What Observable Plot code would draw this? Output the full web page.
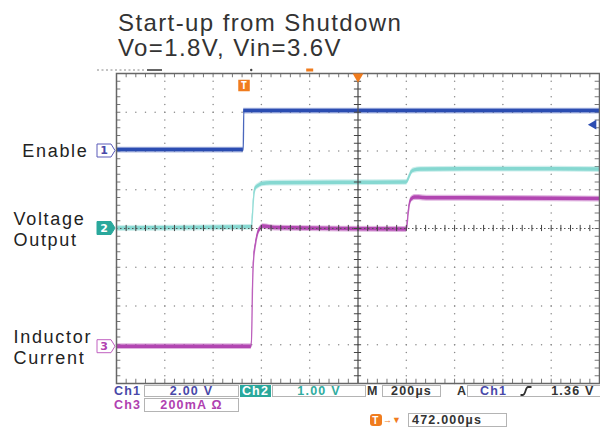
<!DOCTYPE html>
<html><head><meta charset="utf-8">
<script src="https://cdn.jsdelivr.net/npm/d3@7"></script>
<script src="https://cdn.jsdelivr.net/npm/@observablehq/plot@0.6"></script>
<style>
html,body{margin:0;padding:0;background:#fff;}
#wrap{position:relative;width:600px;height:428px;overflow:hidden;font-family:"Liberation Sans",Arial,sans-serif;}
#wrap svg{position:absolute;left:0;top:0;}
#title{position:absolute;left:118px;top:10px;font-size:24px;line-height:25px;letter-spacing:1.4px;color:#333;white-space:nowrap;}
.ro{position:absolute;box-sizing:border-box;display:flex;align-items:center;font-size:12.5px;font-weight:bold;letter-spacing:1.2px;white-space:nowrap;}
.bx{border:1px solid #b4b4b4;background:#fff;}
</style></head><body>
<div id="wrap"><div id="title">Start-up from Shutdown<br>Vo=1.8V, Vin=3.6V</div></div>
<script>
// ---------- data (time in µs, trigger at t = 0) ----------
const divX = 10, divY = 8;
const tLeft = -528, tRight = 1472;          // 472 µs trigger offset, 200 µs/div
const ch1Offset = 6, ch2Offset = 4, ch3Offset = 0.95;   // channel ground positions (div)
const ch1VoltsPerDiv = 2, ch2VoltsPerDiv = 1, ch3mAPerDiv = 200;
const trigLevel = 1.36;

// Ch1 : Enable (V)
const enableT = [-528, -3, -1, 1472];
const enableV = [0.05, 0.05, 2.06, 2.06];
// Ch2 : Voltage Output (V)
const voutT = [-528, 31, 36, 40, 47, 60, 76, 110, 400, 673, 685, 693, 706, 731, 1100, 1472];
const voutV = [0.0, 0.03, 0.44, 0.8, 1.03, 1.1, 1.15, 1.17, 1.18, 1.19, 1.34, 1.45, 1.5, 1.52, 1.53, 1.52];
// Ch3 : Inductor Current (mA)
const iLT  = [-528, 30, 33, 35, 39, 47, 56, 68, 81, 130, 673, 679, 685, 693, 710, 772, 1062, 1472];
const iLmA = [0, 0, 135, 290, 435, 522, 580, 610, 620, 612, 605, 677, 734, 760, 770, 766, 765, 762];

const traceLabels = ["Enable", "Voltage\nOutput", "Inductor\nCurrent"];
const readCh1 = "2.00 V", readCh2 = "1.00 V", readCh3 = "200mA \u03A9";
const readTime = "200\u00B5s", readTrig = "1.36 V", readPos = "472.000\u00B5s";

const colCh1 = "#2c4db2", colCh2 = "#86d8d1", colCh3 = "#b247b2";
const orange = "#f07c1e";

// ---------- derived tables ----------
const ch1 = enableT.map((t, i) => ({t, y: ch1Offset + enableV[i] / ch1VoltsPerDiv}));
const ch2 = voutT.map((t, i) => ({t, y: ch2Offset + voutV[i] / ch2VoltsPerDiv}));
const ch3 = iLT.map((t, i) => ({t, y: ch3Offset + iLmA[i] / ch3mAPerDiv}));

const tDiv = (tRight - tLeft) / divX;
const tCenter = tLeft + tDiv * divX / 2;
const gridDots = [];
for (let i = 1; i < divX; i++) { if (i === divX / 2) continue;
  for (let k = 0; k <= divY * 5; k++) gridDots.push({t: tLeft + i * tDiv, y: k / 5}); }
for (let j = 1; j < divY; j++) { if (j === divY / 2) continue;
  for (let k = 0; k <= divX * 5; k++) gridDots.push({t: tLeft + k * tDiv / 5, y: j}); }
const edgeTX = [], edgeTY = [], cenTX = [], cenTY = [];
for (let k = 1; k < divX * 5; k++) {
  const t = tLeft + k * tDiv / 5;
  edgeTX.push({t, y1: divY, y2: divY - 0.11}, {t, y1: 0, y2: 0.11});
  cenTX.push({t, y1: divY / 2 - 0.08, y2: divY / 2 + 0.08});
}
for (let k = 1; k < divY * 5; k++) {
  const y = k / 5;
  edgeTY.push({y, x1: tLeft, x2: tLeft + 18}, {y, x1: tRight, x2: tRight - 18});
  cenTY.push({y, x1: tCenter - 15, x2: tCenter + 15});
}

function trace(data, color) {
  return [
    Plot.areaY(data, {x: "t", y1: d => d.y - 0.075, y2: d => d.y + 0.075, curve: "monotone-x", fill: color, fillOpacity: 0.4}),
    Plot.areaY(data, {x: "t", y1: d => d.y - 0.045, y2: d => d.y + 0.045, curve: "monotone-x", fill: color}),
    Plot.line(data, {x: "t", y: "y", curve: "monotone-x", stroke: color, strokeWidth: 1.3, strokeOpacity: 0.85})
  ];
}

const chart = Plot.plot({
  width: 600, height: 428,
  marginLeft: 116, marginRight: 1, marginTop: 73, marginBottom: 45,
  x: {domain: [tLeft, tRight], axis: null},
  y: {domain: [0, divY], axis: null},
  style: {background: "transparent", overflow: "visible"},
  marks: [
    Plot.dot(gridDots, {x: "t", y: "y", r: 0.75, fill: "#8a8a8a"}),
    Plot.ruleX(edgeTX, {x: "t", y1: "y1", y2: "y2", stroke: "#777", strokeWidth: 1}),
    Plot.ruleY(edgeTY, {y: "y", x1: "x1", x2: "x2", stroke: "#777", strokeWidth: 1}),
    ...trace(ch1, colCh1),
    ...trace(ch2, colCh2),
    ...trace(ch3, colCh3),
    Plot.ruleX([tCenter], {stroke: "#555", strokeWidth: 1.3}),
    Plot.ruleY([divY / 2], {stroke: "#555", strokeWidth: 1, strokeDasharray: "1.5,2.5"}),
    Plot.ruleX(cenTX, {x: "t", y1: "y1", y2: "y2", stroke: "#444", strokeWidth: 1}),
    Plot.ruleY(cenTY, {y: "y", x1: "x1", x2: "x2", stroke: "#444", strokeWidth: 1}),
    Plot.frame({stroke: "#666", strokeWidth: 1.5}),
    Plot.text([{l: traceLabels[0], y: ch1Offset}], {y: "y", text: "l", frameAnchor: "left", dx: -28, textAnchor: "end", fontSize: 18, fill: "#222", fontFamily: "Liberation Sans, Arial, sans-serif"}),
    Plot.text([{l: traceLabels[1], y: ch2Offset}, {l: traceLabels[2], y: ch3Offset}], {y: "y", text: "l", frameAnchor: "left", dx: -103, textAnchor: "start", lineHeight: 1.2, fontSize: 18, fill: "#222", fontFamily: "Liberation Sans, Arial, sans-serif"}),
    Plot.dot([{t: tRight, y: ch1Offset + trigLevel / ch1VoltsPerDiv}], {x: "t", y: "y", symbol: "triangle", rotate: -90, r: 3.6, dx: -6, fill: colCh1}),
    Plot.dot([{t: tCenter, y: divY}], {x: "t", y: "y", symbol: "triangle", rotate: 180, r: 4, dy: 3, fill: orange}),
    Plot.dot([{t: 0, y: divY}], {x: "t", y: "y", symbol: "square", r: 6.5, dy: 12, fill: orange}),
    Plot.text([{t: 0, y: divY}], {x: "t", y: "y", text: () => "T", dy: 12.5, fill: "#fff", fontWeight: "bold", fontSize: 10})
  ]
});
const wrap = document.getElementById("wrap");
wrap.insertBefore(chart, wrap.firstChild);
const svg = d3.select(chart);
svg.selectAll("text").filter(function(){ return d3.select(this).text() !== "T"; }).style("letter-spacing", "1.7px");

// channel markers
const ys = chart.scale("y"), xs = chart.scale("x");
const xL = xs.apply(tLeft);
[[ch1Offset, "1", "#fff", "#5a5ab8", "#4848a8"],
 [ch2Offset, "2", "#2aa89c", "#2aa89c", "#fff"],
 [ch3Offset, "3", "#fff", "#c060c0", "#b040b0"]].forEach(([off, n, fill, stroke, tc]) => {
  const y = ys.apply(off), r = xL - 1, l = r - 18;
  svg.append("path").attr("d", `M${l},${y-6.5}H${r-4}L${r},${y}L${r-4},${y+6.5}H${l}Z`)
    .attr("fill", fill).attr("stroke", stroke).attr("stroke-width", 1);
  svg.append("text").attr("x", l + 7).attr("y", y).attr("dy", "0.36em").attr("text-anchor", "middle")
    .attr("font-size", 11).attr("font-weight", "bold").attr("fill", tc)
    .attr("font-family", "DejaVu Sans, sans-serif").text(n);
});
// record-view strip above graticule
const yTop = ys.apply(divY) - 3;
svg.append("line").attr("x1", 97).attr("x2", 145).attr("y1", yTop).attr("y2", yTop)
  .attr("stroke", "#888").attr("stroke-dasharray", "2,2.5");
svg.append("line").attr("x1", 147).attr("x2", 162).attr("y1", yTop).attr("y2", yTop)
  .attr("stroke", "#666").attr("stroke-width", 2);
svg.append("rect").attr("x", xs.apply(tCenter - tDiv) - 3).attr("y", yTop - 1.5).attr("width", 7).attr("height", 3).attr("fill", orange);
svg.append("circle").attr("cx", xs.apply(tCenter - 2.2 * tDiv)).attr("cy", yTop).attr("r", 1.2).attr("fill", "#444");

// ---------- readout panel ----------
function ro(left, top, width, height, cls, css, html) {
  const d = document.createElement("div");
  d.className = "ro " + cls;
  d.style.cssText = `left:${left}px;top:${top}px;width:${width}px;height:${height}px;` + css;
  d.innerHTML = html; wrap.appendChild(d); return d;
}
const blue = "#4848a8", teal = "#30aca0", pink = "#b040b0", dark = "#333";
ro(114, 385, 30, 12, "", `color:${blue}`, "Ch1");
ro(144, 385, 95, 12, "bx", `color:${blue};justify-content:center`, readCh1);
ro(240, 385, 31, 12, "", `background:#2aa89c;color:#fff;justify-content:center`, "Ch2");
ro(272, 385, 94, 12, "bx", `color:${teal};justify-content:center`, readCh2);
ro(367, 385, 15, 12, "", `color:${dark}`, "M");
ro(382, 385, 59, 12, "bx", `color:${dark};justify-content:center`, readTime);
ro(457, 385, 10, 12, "", `color:${dark}`, "A");
ro(467, 385, 150, 12, "bx", `color:${dark};padding-left:12px`,
  `<span style="color:${blue}">Ch1</span><svg width="12" height="10" style="position:static;margin:0 19px 0 13px"><path d="M0.5,9 H3 C5.5,9 5.5,1 8,1 H11.5" fill="none" stroke="#333" stroke-width="1.8"/></svg>${readTrig}`);
ro(114, 398, 30, 14, "", `color:${pink}`, "Ch3");
ro(144, 398, 95, 14, "bx", `color:${pink};justify-content:center`, readCh3);
ro(370, 414, 12, 12, "", `background:${orange};border-radius:3px;color:#fff;justify-content:center;font-size:10px`, "T");
ro(383, 414, 24, 12, "", `color:${orange};font-size:9px;letter-spacing:0`, "\u2192\u25BC");
ro(408, 413, 99, 14, "bx", `color:${dark};padding-left:3px;font-size:12.5px`, readPos);
</script>
</body></html>
